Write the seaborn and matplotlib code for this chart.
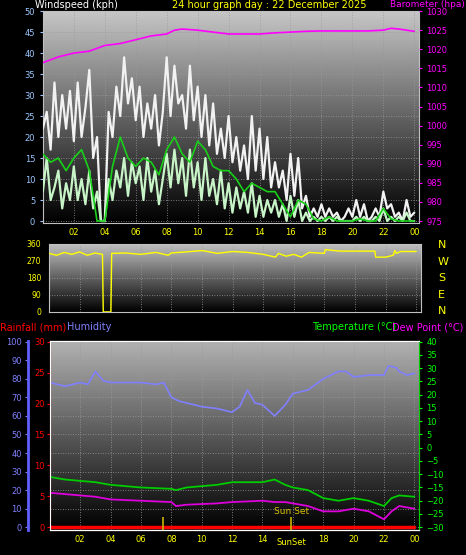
import numpy as np
import pandas as pd
import matplotlib
matplotlib.use("Agg")
import matplotlib.pyplot as plt
import seaborn as sns

sns.set_style("dark")
plt.rcParams['font.family'] = ['DejaVu Sans']

# ---------------- data ----------------
t15 = np.arange(97) * 0.25
gust = [22,26,17,33, 20,30,22,31, 19,33,20,27, 36,15,20,0, 0,26,20,32, 25,39,28,34,
        24,32,20,28, 22,30,18,26, 39,25,37,28, 30,22,37,24, 32,20,30,18, 28,16,22,15,
        25,14,20,12, 18,10,25,12, 22,10,20,8, 14,8,12,5, 16,6,15,3, 6,1,3,1, 4,1,3,1,
        2,0,1,3, 1,5,1,4, 0,1,3,1, 7,3,4,1, 2,0,5,1, 2]
speed = [7,15,5,8, 12,3,9,5, 13,5,10,4, 12,3,7,0, 0,10,5,12, 8,15,6,14, 9,13,5,15,
         7,12,4,10, 16,8,17,9, 15,6,17,8, 14,5,15,6, 10,4,12,3, 9,2,8,3, 7,2,9,1,
         6,1,5,2, 5,1,4,0, 6,1,5,0, 2,0,1,0, 1,0,1,0, 1,0,0,0, 0,1,0,1, 0,0,1,0,
         3,0,1,0, 1,0,2,0, 0]
t30 = np.arange(49) * 0.5
avg = [16,14,15,12,15,17,12,0,0,13,20,15,13,15,14,11,17,20,16,14,19,17,13,12,12,10,
       7,9,8,7,7,4,1,5,4,0.5,0,1,0,0,0,0.5,0,0,3,0.5,0,0,0]
baro_t = [0,1,2,3,4,5,6,7,8,8.5,9,10,11,12,13,14,15,16,17,18,19,20,21,22,22.5,23,24]
baro = [1016.5,1018,1019,1019.5,1021,1021.5,1022.5,1023.5,1024,1025,1025.3,1025,1024.5,
        1024,1024,1024,1024.3,1024.5,1024.7,1024.8,1024.8,1024.8,1024.8,1025,1025.5,1025.3,1024.7]
dir_t = [0,0.5,1,1.5,2,2.5,3,3.5,3.55,4.05,4.1,5,6,7,7.8,8,9,10,11,12,13,14,14.8,15,15.5,16,
         16.5,17,18,18.05,19,20,21,21.3,21.35,22,22.5,22.6,22.7,23,24]
wdir = [310,300,315,305,318,300,312,305,0,0,310,312,305,315,300,312,318,325,310,320,315,305,
        290,310,295,305,290,315,310,330,322,322,322,322,290,290,300,325,310,320,320]
hum_t = [0,1,2,2.5,3,3.5,4,6,7,7.5,8,8.5,9,10,11,12,12.5,13,13.5,14,14.8,15.5,16,17,18,19,
         19.5,20,21,22,22.3,22.8,23,23.5,24]
hum = [78,76,78,77,84,79,78,78,77,78,70,68,67,65,64,62,65,74,67,66,60,66,72,74,80,84,84,81,
       82,82,87,86,84,82,83]
tmp_t = [0,1,3,4,6,8,8.3,9,11,12,14,14.8,15.5,16,17,18,19,20,21,22,22.5,23,24]
temp = [-11,-12,-13,-14,-15,-15.5,-16,-15,-14,-13,-13,-12,-14,-15,-16,-19,-20,-19,-20,-22,
        -19,-18,-18.5]
dew = [-17,-17.5,-18.5,-19.5,-20,-20.5,-22,-21.5,-21,-20.5,-20,-20.5,-20.5,-21,-22,-24,-24,
       -23,-24,-27,-24,-22,-23]
rain_t = [0, 24]
rain = [0, 0]
hour_ticks = [2,4,6,8,10,12,14,16,18,20,22,24]
hour_labels = ["02","04","06","08","10","12","14","16","18","20","22","00"]
hour_labels_bottom = ["02","04","06","08","10","12","14","","18","20","22","00"]
sun_times = [7.47, 15.9]

# ---------------- figure ----------------
fig = plt.figure(figsize=(4.66, 5.55), dpi=100, facecolor="black")

def grad(ax, top=0.78):
    g = np.linspace(0, top, 256)[:, None]
    ax.imshow(g, extent=[0, 1, 0, 1], transform=ax.transAxes, cmap="gray", vmin=0, vmax=1,
              aspect="auto", origin="lower", zorder=0)
    ax.set_facecolor("black")
    ax.grid(True, color="#9a9a9a", linestyle=(0, (1, 2)), linewidth=0.6)
    for s in ax.spines.values():
        s.set_color("#c0c0c0")

fs = 6
tfs = 7
# ---- wind panel ----
ax1 = fig.add_axes([0.092, 0.598, 0.807, 0.382])
grad(ax1)
sns.lineplot(x=t15, y=gust, ax=ax1, color="#f2f2f2", linewidth=1.6, zorder=3)
sns.lineplot(x=t15, y=speed, ax=ax1, color="#c8f5c8", linewidth=1.6, zorder=4)
sns.lineplot(x=t30, y=avg, ax=ax1, color="#18d018", linewidth=1.2, zorder=5)
ax1.set_xlim(0, 24.3); ax1.set_ylim(-0.5, 50)
ax1.set_yticks(range(0, 51, 5))
ax1.set_xticks(hour_ticks); ax1.set_xticklabels(hour_labels)
ax1.tick_params(axis="x", colors="#ffff00", labelsize=fs, length=0)
ax1.tick_params(axis="y", colors="#9cc8ff", labelsize=fs, length=2)
ax1.set_xlabel(""); ax1.set_ylabel("")
ax1b = ax1.twinx()
sns.lineplot(x=baro_t, y=baro, ax=ax1b, color="#ff00ff", linewidth=1.2)
ax1b.set_ylim(975 - 0.55, 1030)
ax1b.set_yticks(range(975, 1031, 5))
ax1b.tick_params(axis="y", colors="#ff00ff", labelsize=fs, length=2)
ax1b.set_ylabel("")
for s in ax1b.spines.values():
    s.set_visible(False)
fig.text(0.075, 1.0, "Windspeed (kph)", color="white", fontsize=tfs, va="top")
fig.text(0.369, 1.0, "24 hour graph day : 22 December 2025", color="#ffff00", fontsize=tfs, va="top")
fig.text(0.997, 1.0, "Barometer (hpa)", color="#ff00ff", fontsize=6.5, va="top", ha="right")

# ---- direction panel ----
ax2 = fig.add_axes([0.105, 0.438, 0.798, 0.1225])
grad(ax2, 0.75)
sns.lineplot(x=dir_t, y=wdir, ax=ax2, color="#ffff00", linewidth=1.0, zorder=3)
ax2.set_xlim(0, 24.3); ax2.set_ylim(0, 360)
ax2.set_yticks([0, 90, 180, 270, 360]); ax2.set_xticks(hour_ticks)
ax2.set_xticklabels([])
ax2.tick_params(axis="y", colors="#ffff00", labelsize=5.5, length=2)
ax2.tick_params(axis="x", length=0)
ax2.set_xlabel(""); ax2.set_ylabel("")
for i, c in enumerate(["N", "W", "S", "E", "N"]):
    fig.text(0.94, 1 - (245 + i * 16.5) / 555, c, color="#ffff00", fontsize=8, va="center")

# ---- temperature / humidity panel ----
ax3 = fig.add_axes([0.107, 0.045, 0.792, 0.341])
grad(ax3, 0.7)
sns.lineplot(x=hum_t, y=hum, ax=ax3, color="#8080ff", linewidth=1.2, zorder=3)
ax3.set_xlim(0, 24.3); ax3.set_ylim(-1.5, 100.5)
ax3.set_yticks(range(0, 101, 10))
ax3.spines["left"].set_position(("outward", 16))
ax3.spines["left"].set_color("#6060ff"); ax3.spines["left"].set_linewidth(2)
ax3.tick_params(axis="y", colors="#8080ff", labelsize=fs, length=2, pad=2)
ax3.set_xticks(hour_ticks); ax3.set_xticklabels(hour_labels_bottom)
ax3.tick_params(axis="x", colors="#ffff00", labelsize=fs, length=0)
ax3.set_xlabel(""); ax3.set_ylabel("")

ax3r = ax3.twinx()
sns.lineplot(x=rain_t, y=rain, ax=ax3r, color="#ff0000", linewidth=2.5, zorder=4)
ax3r.set_ylim(-0.45, 30.15)
ax3r.yaxis.tick_left(); ax3r.yaxis.set_label_position("left")
ax3r.spines["left"].set_visible(True); ax3r.spines["left"].set_color("#ff0000")
ax3r.spines["right"].set_visible(False)
ax3r.set_yticks(range(0, 31, 5))
ax3r.tick_params(axis="y", colors="#ff0000", labelsize=fs, length=2, pad=1.5)
ax3r.set_ylabel("")

ax3t = ax3.twinx()
sns.lineplot(x=tmp_t, y=temp, ax=ax3t, color="#00cc00", linewidth=1.3)
sns.lineplot(x=tmp_t, y=dew, ax=ax3t, color="#dd00dd", linewidth=1.3)
ax3t.set_ylim(-31.05, 40.35)
ax3t.set_yticks(range(-30, 41, 5))
ax3t.spines["right"].set_color("#00cc00")
ax3t.tick_params(axis="y", colors="#00ff00", labelsize=fs, length=2)
ax3t.set_ylabel("")
for st in sun_times:
    ax3t.vlines(st, -31, -26, color="#c8b400", linewidth=1.2)
ax3t.text(sun_times[1], -24, "Sun Set", color="#d8c000", fontsize=6.5, ha="center", va="center")
ax3.text(sun_times[1], -0.065, "SunSet", transform=ax3.get_xaxis_transform(),
         color="#ffff00", fontsize=fs, ha="center", va="center")
fig.text(0.0, 1 - 327 / 555, "Rainfall (mm)", color="#ff0000", fontsize=tfs, va="center")
fig.text(0.143, 1 - 327 / 555, "Humidity", color="#8080ff", fontsize=tfs, va="center")
fig.text(0.67, 1 - 327 / 555, "Temperature (°C)", color="#00ff00", fontsize=tfs, va="center")
fig.text(0.995, 1 - 327 / 555, "Dew Point (°C)", color="#ff00ff", fontsize=tfs, va="center", ha="right")

fig.savefig("out.png", dpi=100, facecolor="black")
